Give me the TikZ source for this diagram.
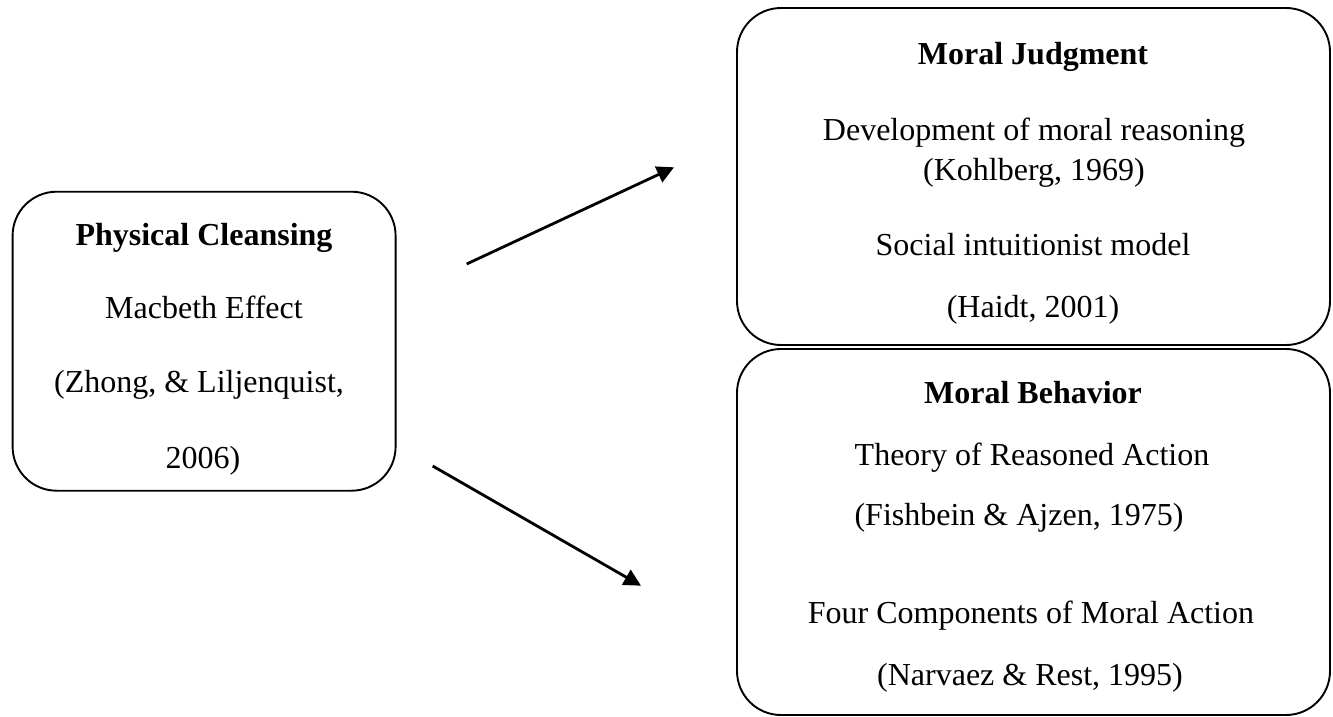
\documentclass[tikz,border=0pt]{standalone}
\usepackage{fontspec}
\setmainfont{Liberation Serif}
\usetikzlibrary{arrows.meta}
\begin{document}
\begin{tikzpicture}[x=1pt,y=-1pt,
  box/.style={draw=black,line width=1.9pt,rounded corners=44pt,inner sep=0pt},
  txt/.style={inner sep=0pt,anchor=base,font=\fontsize{32}{38}\selectfont},
  ttl/.style={txt,font=\fontsize{32}{38}\selectfont\bfseries},
  arr/.style={line width=2.8pt,-{Triangle[length=17pt,width=17pt]}}]
\useasboundingbox (0,0) rectangle (1333,717);
% boxes
\node[box,minimum width=383pt,minimum height=299pt] (pc) at (204.1,341.2) {};
\node[box,minimum width=593pt,minimum height=337pt] (mj) at (1033.5,176.5) {};
\node[box,minimum width=593pt,minimum height=366pt] (mb) at (1033.5,532) {};
% left texts
\node[ttl] (pc1) at (204,245) {Physical Cleansing};
\node[txt] (pc2) at (204,318) {Macbeth Effect};
\node[txt] (pc3) at (199,392) {(Zhong, \& Liljenquist,};
\node[txt] (pc4) at (203,468) {2006)};
% top right texts
\node[ttl] (mj1) at (1033,64) {Moral Judgment};
\node[txt] (mj2) at (1034,140) {Development of moral reasoning};
\node[txt] (mj3) at (1034,180) {(Kohlberg, 1969)};
\node[txt] (mj4) at (1033,255) {Social intuitionist model};
\node[txt] (mj5) at (1033,317) {(Haidt, 2001)};
% bottom right texts
\node[ttl] (mb1) at (1033,403) {Moral Behavior};
\node[txt] (mb2) at (1032,465) {Theory of Reasoned Action};
\node[txt] (mb3) at (1019,525) {(Fishbein \& Ajzen, 1975)};
\node[txt] (mb4) at (1031,623) {Four Components of Moral Action};
\node[txt] (mb5) at (1030,685) {(Narvaez \& Rest, 1995)};
% arrows
\coordinate (a1s) at (466.7,264);
\coordinate (a1e) at (674,167.3);
\coordinate (a2s) at (432.7,466);
\coordinate (a2e) at (641,585.7);
\draw[arr] (a1s) -- (a1e);
\draw[arr] (a2s) -- (a2e);
\end{tikzpicture}
\end{document}
